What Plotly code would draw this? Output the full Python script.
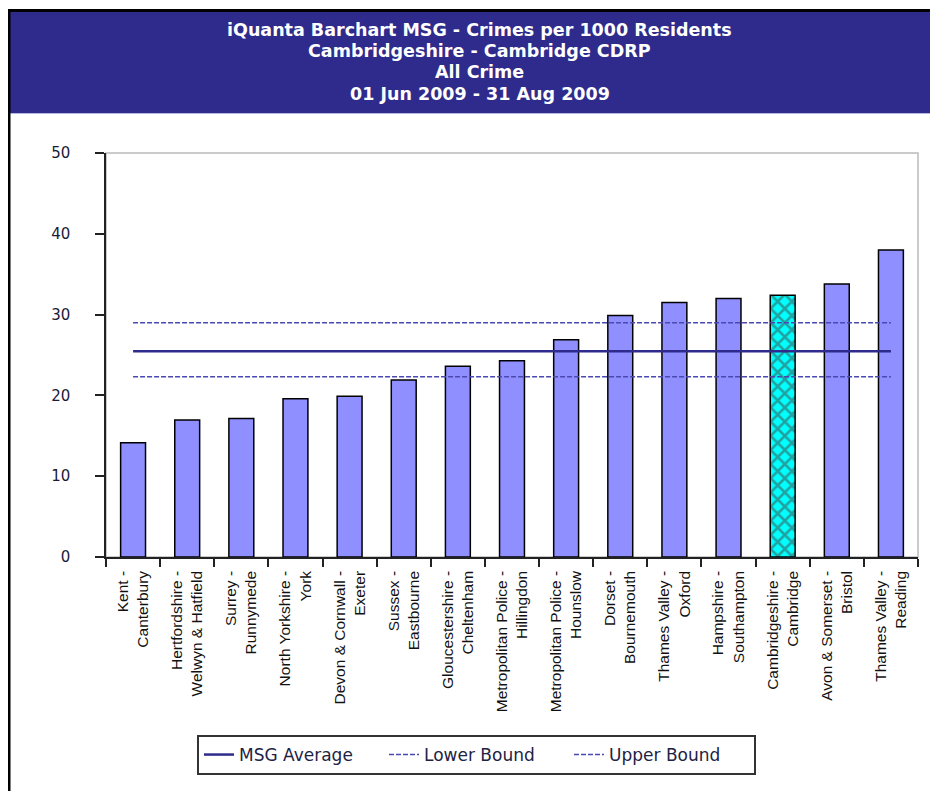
import plotly.graph_objects as go

categories = [
    "Kent -<br>Canterbury",
    "Hertfordshire -<br>Welwyn & Hatfield",
    "Surrey -<br>Runnymede",
    "North Yorkshire -<br>York",
    "Devon & Cornwall -<br>Exeter",
    "Sussex -<br>Eastbourne",
    "Gloucestershire -<br>Cheltenham",
    "Metropolitan Police -<br>Hillingdon",
    "Metropolitan Police -<br>Hounslow",
    "Dorset -<br>Bournemouth",
    "Thames Valley -<br>Oxford",
    "Hampshire -<br>Southampton",
    "Cambridgeshire -<br>Cambridge",
    "Avon & Somerset -<br>Bristol",
    "Thames Valley -<br>Reading",
]
values = [14.15, 16.95, 17.15, 19.6, 19.9, 21.9, 23.6, 24.3, 26.9, 29.9, 31.5, 32.0, 32.4, 33.8, 38.0]
highlight = "Cambridgeshire -<br>Cambridge"
msg_average = 25.45
lower_bound = 22.3
upper_bound = 29.0
y_ticks = [0, 10, 20, 30, 40, 50]
title_lines = [
    "iQuanta Barchart MSG - Crimes per 1000 Residents",
    "Cambridgeshire - Cambridge CDRP",
    "All Crime",
    "01 Jun 2009 - 31 Aug 2009",
]

OFF = 8  # page body margin offset
W, H = 938 - OFF, 791 - OFF
# desired screen positions of the plot area
SX0, SX1, SY0, SY1 = 106, 918, 153, 557
L = SX0 - OFF
R = W - (SX1 - OFF)
T = SY0 - OFF
B = H - (SY1 - OFF)
PW, PH = SX1 - SX0, SY1 - SY0


def px(x):
    """screen x pixel -> paper x"""
    return (x - SX0) / PW


def py(y):
    """screen y pixel -> paper y"""
    return (SY1 - y) / PH


NAVY = "#2E2B8C"
BAR = "#8F8FFF"

bar_colors = ["#00FFFF" if c == highlight else BAR for c in categories]
bar_patterns = ["x" if c == highlight else "" for c in categories]

fig = go.Figure()
fig.add_trace(go.Bar(
    x=categories, y=values, showlegend=False,
    marker=dict(color=bar_colors, line=dict(color="black", width=1.5),
                pattern=dict(shape=bar_patterns, fgcolor="black", size=10, solidity=0.45)),
    hoverinfo="x+y",
))
fig.add_trace(go.Scatter(
    x=categories, y=[msg_average] * len(categories), mode="lines",
    name="MSG Average", line=dict(color=NAVY, width=2.5),
))
fig.add_trace(go.Scatter(
    x=categories, y=[lower_bound] * len(categories), mode="lines",
    name="Lower Bound", line=dict(color="#4B48B0", width=1.5, dash="5px,2px"),
))
fig.add_trace(go.Scatter(
    x=categories, y=[upper_bound] * len(categories), mode="lines",
    name="Upper Bound", line=dict(color="#4B48B0", width=1.5, dash="5px,2px"),
))

shapes = [
    # gray plot frame
    dict(type="rect", xref="paper", yref="paper", x0=0, x1=1, y0=0, y1=1,
         line=dict(color="#BBBBBB", width=1.5), layer="below"),
    # title band
    dict(type="rect", xref="paper", yref="paper", x0=px(10), x1=px(950), y0=py(113), y1=py(11),
         fillcolor=NAVY, line=dict(width=0), layer="below"),
    dict(type="line", xref="paper", yref="paper", x0=px(10), x1=px(950), y0=py(113.5), y1=py(113.5),
         line=dict(color="#B8B8E0", width=1)),
    # outer black border (top and left)
    dict(type="line", xref="paper", yref="paper", x0=px(8), x1=px(950), y0=py(10.5), y1=py(10.5),
         line=dict(color="black", width=3)),
    dict(type="line", xref="paper", yref="paper", x0=px(9), x1=px(9), y0=py(9), y1=py(810),
         line=dict(color="black", width=3)),
]

line_centers = [29.5, 50.5, 72, 93.5]
annotations = [
    dict(text=t, xref="paper", yref="paper", x=px(479.5), y=py(yc), showarrow=False,
         xanchor="center", yanchor="middle",
         font=dict(family="DejaVu Sans", size=17.5, color="white", weight="bold"))
    for t, yc in zip(title_lines, line_centers)
]

fig.update_layout(
    width=W, height=H,
    margin=dict(l=L, r=R, t=T, b=B, pad=0),
    paper_bgcolor="white", plot_bgcolor="white",
    bargap=0.54,
    shapes=shapes, annotations=annotations,
    font=dict(family="Liberation Sans, Arial", color="#111111"),
    showlegend=True,
    legend=dict(orientation="h", x=px(197), y=py(735), xanchor="left", yanchor="top",
                bgcolor="white", bordercolor="#333333", borderwidth=2,
                font=dict(family="DejaVu Sans", size=17, color="#222244"),
                entrywidth=140, itemwidth=30),
    xaxis=dict(showline=True, linecolor="#222222", linewidth=1.5, ticks="outside",
               tickson="boundaries", ticklen=8, tickcolor="#222222", tickwidth=1.5,
               tickangle=-90, showgrid=False, ticklabelstandoff=6, automargin=False,
               tickfont=dict(family="Liberation Sans, Arial", size=15.5, color="#111111"),
               fixedrange=True),
    yaxis=dict(range=[0, 50], tickvals=y_ticks, showline=True, linecolor="#222222", linewidth=1.5,
               ticks="outside", ticklen=9, tickcolor="#222222", tickwidth=1.5, showgrid=False,
               zeroline=False, ticklabelstandoff=22, automargin=False,
               tickfont=dict(family="DejaVu Sans", size=15, color="#1a1a3a")),
)

fig.write_html("out.html")
